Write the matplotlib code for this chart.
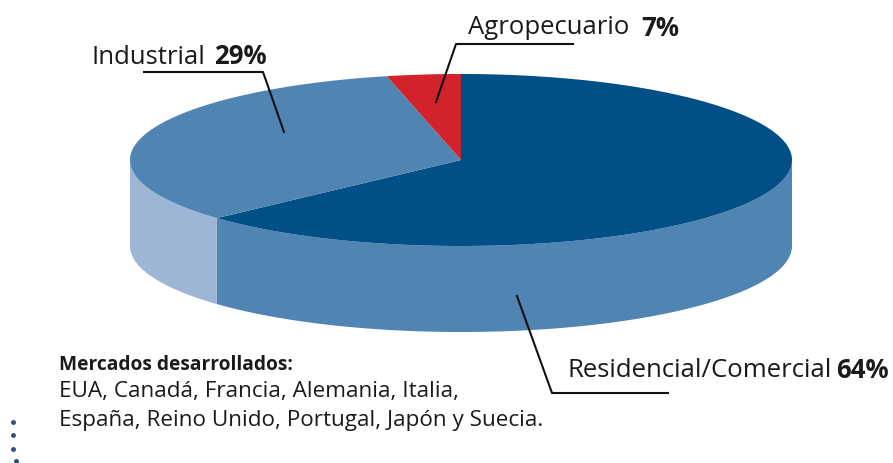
import numpy as np
import matplotlib
matplotlib.use("Agg")
import matplotlib.pyplot as plt

categories = ["Residencial/Comercial", "Industrial", "Agropecuario"]
shares = [64, 29, 7]
# slices as drawn in the picture, the original is not to scale (percent of the circle)
drawn = [63.2, 33.2, 3.6]
top_colors = ["#004f87", "#5084b3", "#d2222b"]
side_colors = ["#5084b3", "#9db6d5"]
note_title = "Mercados desarrollados:"
note_lines = ["EUA, Canadá, Francia, Alemania, Italia,",
              "España, Reino Unido, Portugal, Japón y Suecia."]

cx, cy, rx, ry, depth = 461, 161, 331, 86, 86
text_color = "#1a1a1a"
line_color = "#111111"

plt.rcParams["font.family"] = ["Open Sans", "DejaVu Sans"]
fig = plt.figure(figsize=(8.93, 4.64), dpi=100)
ax = fig.add_axes([0, 0, 1, 1])
ax.set_xlim(0, 893)
ax.set_ylim(464, 0)
ax.axis("off")


def arc(a0, a1):
    t = np.radians(np.linspace(a0, a1, 200))
    return cx + rx * np.cos(t), cy - ry * np.sin(t)


# side walls, front half only
edges = 90 - np.cumsum([0] + drawn) * 3.6
split = edges[1]
x, y = arc(0, split)
ax.fill(np.r_[x, x[::-1]], np.r_[y, y[::-1] + depth], color=side_colors[0], lw=0)
x, y = arc(split, -180)
ax.fill(np.r_[x, x[::-1]], np.r_[y, y[::-1] + depth], color=side_colors[1], lw=0)

# top face
for i in range(len(drawn)):
    x, y = arc(edges[i], edges[i + 1])
    ax.fill(np.r_[cx, x], np.r_[cy, y], color=top_colors[i], lw=0)

# leader lines
ax.plot([436, 456, 573], [103, 45, 45], color=line_color, lw=1.5)
ax.plot([284, 263, 144], [133, 73, 73], color=line_color, lw=1.5)
ax.plot([517, 552, 668], [297, 394, 394], color=line_color, lw=1.5)

# labels
ax.text(468, 28, categories[2], fontsize=18.5, va="center", color=text_color)
ax.text(641, 28, f"{shares[2]}%", fontsize=18.5, va="center", weight="bold", color=text_color)
ax.text(92, 57, categories[1], fontsize=18.5, va="center", color=text_color)
ax.text(214, 57, f"{shares[1]}%", fontsize=18.5, va="center", weight="bold", color=text_color)
ax.text(567, 371, categories[0], fontsize=18.5, va="center", color=text_color)
ax.text(836, 371, f"{shares[0]}%", fontsize=18.5, va="center", weight="bold", color=text_color)

# note
ax.text(59, 365, note_title, fontsize=13.75, va="center", weight="bold", color=text_color)
for i, line in enumerate(note_lines):
    ax.text(59, 392 + i * 29, line, fontsize=16.2, va="center", color=text_color)

# dotted mark, bottom left
ax.plot([13, 13, 13, 16], [423, 436, 450, 462], ls="none", marker="o", ms=2.5, color="#2a4f80")

fig.savefig("out.png", dpi=100)
